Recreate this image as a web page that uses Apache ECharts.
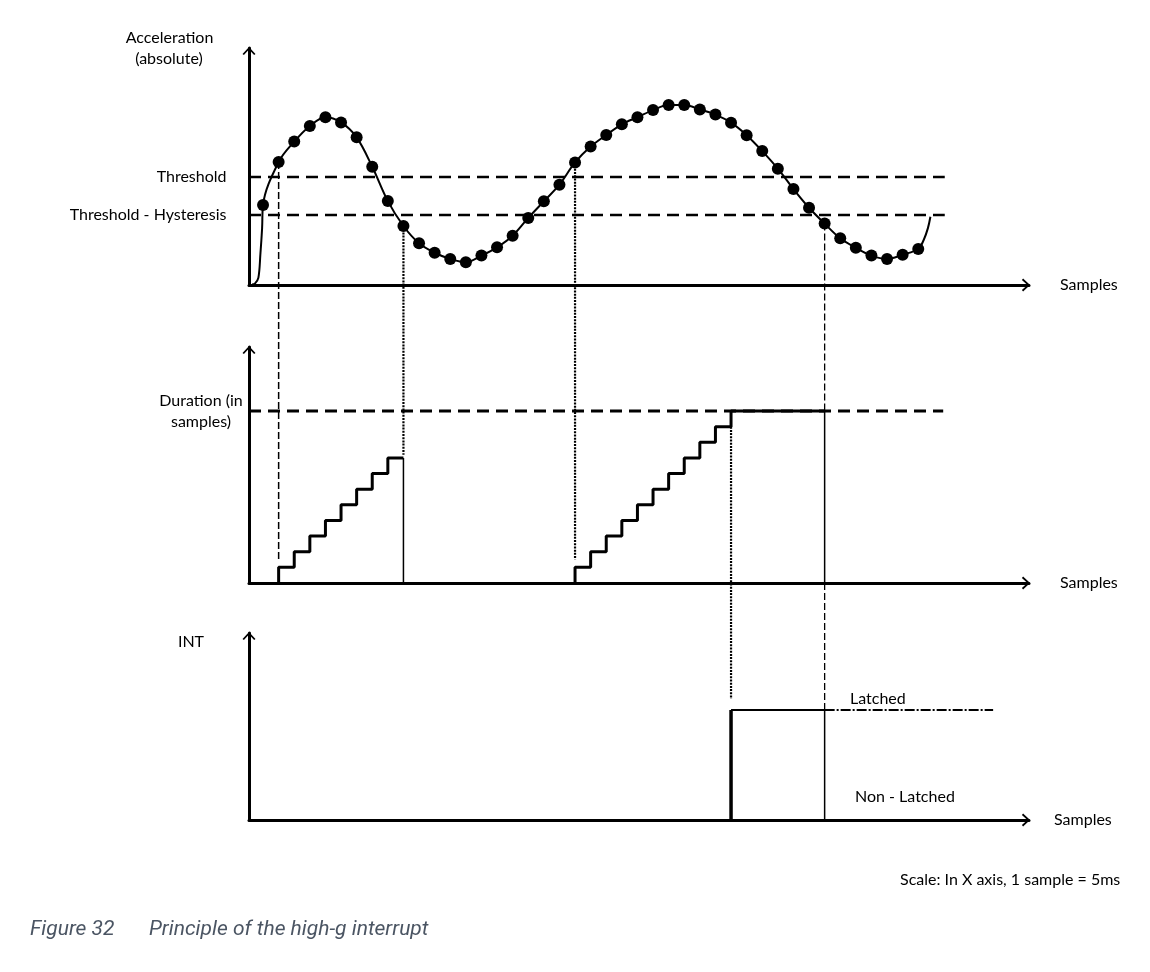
<!DOCTYPE html>
<html>
<head>
<meta charset="utf-8">
<script src="https://cdn.jsdelivr.net/npm/echarts@6/dist/echarts.min.js"></script>
<style>html,body{margin:0;padding:0;background:#fff}#c{width:1150px;height:972px}</style>
</head>
<body>
<div id="c"></div>
<script>
// ---------------- DATA ----------------
const sampleIndex = [0,1,2,3,4,5,6,7,8,9,10,11,12,13,14,15,16,17,18,19,20,21,22,23,24,25,26,27,28,29,30,31,32,33,34,35,36,37,38,39,40,41,42];
const acceleration = [33.8,51.9,60.5,67.1,70.8,68.6,62.3,49.9,35.4,24.9,17.6,13.6,11.0,9.6,12.4,15.9,20.8,28.3,35.3,42.3,
  51.7,58.4,63.3,67.8,70.8,73.8,75.9,75.9,74.1,71.9,68.5,63.2,56.5,49.1,40.5,32.6,25.9,19.7,15.7,12.4,11.0,12.8,15.2];
const curveLeadIn = [[-0.7,0.2],[-0.51,0.7],[-0.3,3.0],[-0.17,13.0],[-0.06,24.0]];
const curveTail = [[42.35,19.0],[42.62,24.0],[42.78,28.8]];
const accelThreshold = 45.6;
const accelHysteresis = 29.5;
const thresholdLineEnd = 43.7;
const durationCount = [0,1,2,3,4,5,6,7,8,0,0,0,0,0,0,0,0,0,0,0,1,2,3,4,5,6,7,8,9,10,11,11,11,11,11,11,0,0,0,0,0,0,0];
const durationThreshold = 11;
const intEdges = [30, 36];      // rise sample, non-latched fall sample
const intHigh = 1;
const latchedEnd = 46.8;
// vertical link lines between panels
const linkSample     = [1, 9, 20, 30, 36, 36];
const linkFromPanel  = [0, 0, 0, 1, 0, 1];
const linkFromValue  = [51.9, 24.9, 51.7, 10, 25.9, 0];
const linkToPanel    = [1, 1, 1, 2, 1, 2];
const linkToValue    = [1.5, 8.2, 1.5, 1.1, 11, 1];

// ---------------- LAYOUT / STYLE ----------------
const X_MIN = -0.9, X_MAX = 49.1;
const FONT = 'Lato';
const ARROW = 'path://M6.5,0L13,7L11.6,8.2L6.5,2.7L1.4,8.2L0,7Z';
const grids = [
  {left: 249, top: 48, width: 780, height: 237},
  {left: 249, top: 347, width: 780, height: 236},
  {left: 249, top: 633, width: 780, height: 187}
];
const yMax = [100, 15.1, 1.7];
const axisLine = {onZero: false, lineStyle: {color: '#000', width: 3}, symbol: ['none', ARROW], symbolSize: [13, 8.2], symbolOffset: [0, -3]};
function xAx(gi, gap) {
  return {type: 'value', gridIndex: gi, min: X_MIN, max: X_MAX, axisLine: axisLine,
    axisTick: {show: false}, axisLabel: {show: false}, splitLine: {show: false},
    name: 'Samples', nameLocation: 'end', nameGap: gap,
    nameTextStyle: {fontFamily: FONT, fontSize: 16, color: '#000', verticalAlign: 'middle'}};
}
function yAx(gi) {
  return {type: 'value', gridIndex: gi, min: 0, max: yMax[gi], axisLine: axisLine,
    axisTick: {show: false}, axisLabel: {show: false}, splitLine: {show: false}};
}
function seg(gi, data, width, type, extra) {
  return Object.assign({type: 'line', xAxisIndex: gi, yAxisIndex: gi, data: data, symbol: 'none', silent: true,
    lineStyle: {color: '#000', width: width, type: type || 'solid'}}, extra || {});
}

// stair runs of the duration counter (only the non-zero parts)
const stairRuns = [], drops = [];
let run = null;
for (let i = 1; i < durationCount.length; i++) {
  const x = sampleIndex[i], prev = durationCount[i - 1], cur = durationCount[i];
  if (prev === 0 && cur > 0) {
    run = [[x, 0], [x, cur]];
  } else if (cur < prev) {
    run.push([x, prev]); stairRuns.push(run); run = null;
    drops.push([[x, prev], [x, cur]]);
  } else if (cur > 0) {
    run.push([x, cur]);
  }
}
if (run) stairRuns.push(run);

const curveData = curveLeadIn.concat(sampleIndex.map((k, i) => [k, acceleration[i]])).concat(curveTail);
const dotData = sampleIndex.map((k, i) => [k, acceleration[i]]);

const series = [];
// panel 1
series.push(seg(0, [[X_MIN, accelThreshold], [thresholdLineEnd, accelThreshold]], 2.5, [12, 7]));
series.push(seg(0, [[X_MIN, accelHysteresis], [thresholdLineEnd, accelHysteresis]], 2.5, [12, 7]));
series.push(seg(0, curveData, 2, 'solid', {smooth: 0.35}));
series.push({type: 'scatter', xAxisIndex: 0, yAxisIndex: 0, data: dotData, symbolSize: 12, silent: true,
  itemStyle: {color: '#000', opacity: 1, borderWidth: 0}, z: 5});
// panel 2
series.push(seg(1, [[X_MIN, durationThreshold], [thresholdLineEnd - 0.1, durationThreshold]], 3, [12, 7]));
stairRuns.forEach(r => series.push(seg(1, r, 3, 'solid', {step: 'end', z: 4})));
drops.forEach(d => series.push(seg(1, d, 1.5, 'solid', {z: 4})));
// panel 3
series.push(seg(2, [[intEdges[0], 0], [intEdges[0], intHigh]], 3.5, 'solid', {z: 4}));
series.push(seg(2, [[intEdges[0], intHigh], [intEdges[1], intHigh]], 2, 'solid', {z: 4}));
series.push(seg(2, [[intEdges[1], intHigh], [intEdges[1], 0]], 1.5, 'solid', {z: 4}));
series.push(seg(2, [[intEdges[1], intHigh], [latchedEnd, intHigh]], 1.8, [10, 2, 2, 2], {z: 4}));

const chart = echarts.init(document.getElementById('c'), null, {renderer: 'canvas'});
chart.setOption({
  animation: false,
  backgroundColor: '#ffffff',
  grid: grids.map(g => Object.assign({containLabel: false, outerBoundsMode: 'none'}, g)),
  xAxis: [xAx(0, 31), xAx(1, 31), xAx(2, 25)],
  yAxis: [yAx(0), yAx(1), yAx(2)],
  series: series
});

// ---------------- graphic: links + texts ----------------
const px = (gi, x, y) => chart.convertToPixel({gridIndex: gi}, [x, y]);
const linkStyle = [
  {lineWidth: 1.5, lineDash: [7, 3]},
  {lineWidth: 2.2, lineDash: [2, 1.2]},
  {lineWidth: 2.2, lineDash: [2, 1.2]},
  {lineWidth: 2.2, lineDash: [2, 1.2]},
  {lineWidth: 1.3, lineDash: [7, 3]},
  {lineWidth: 1.3, lineDash: [7, 3]}
];
const graphics = [];
linkSample.forEach((s, i) => {
  const a = px(linkFromPanel[i], s, linkFromValue[i]);
  const b = px(linkToPanel[i], s, linkToValue[i]);
  graphics.push({type: 'line', silent: true, z: 1,
    shape: {x1: a[0], y1: a[1], x2: b[0], y2: b[1]},
    style: Object.assign({stroke: '#000'}, linkStyle[i])});
});
function txt(text, x, y, align, opts) {
  graphics.push({type: 'text', silent: true, z: 10, x: x, y: y,
    style: Object.assign({text: text, fontFamily: FONT, fontSize: 16, fill: '#000', align: align, verticalAlign: 'middle'}, opts || {})});
}
const thY = px(0, X_MIN, accelThreshold);
const hyY = px(0, X_MIN, accelHysteresis);
const duY = px(1, X_MIN, durationThreshold);
txt('Acceleration', 169.5, 37.5, 'center');
txt('(absolute)', 169, 58.5, 'center');
txt('Threshold', thY[0] - 22.5, thY[1], 'right');
txt('Threshold - Hysteresis', hyY[0] - 22.5, hyY[1], 'right');
txt('Duration (in', 201, duY[1] - 10, 'center');
txt('samples)', 201, duY[1] + 11, 'center');
txt('INT', 191, 642, 'center');
txt('Latched', 850, 699, 'left');
txt('Non - Latched', 855, 797, 'left');
txt('Scale: In X axis, 1 sample = 5ms', 900, 880, 'left', {fontSize: 16});
txt('Figure 32', 30, 930, 'left', {fontFamily: 'Roboto', fontStyle: 'italic', fontSize: 21, fill: '#4b5563'});
txt('Principle of the high-g interrupt', 149, 930, 'left', {fontFamily: 'Roboto', fontStyle: 'italic', fontSize: 21, fill: '#4b5563'});
chart.setOption({graphic: graphics});
</script>
</body>
</html>
